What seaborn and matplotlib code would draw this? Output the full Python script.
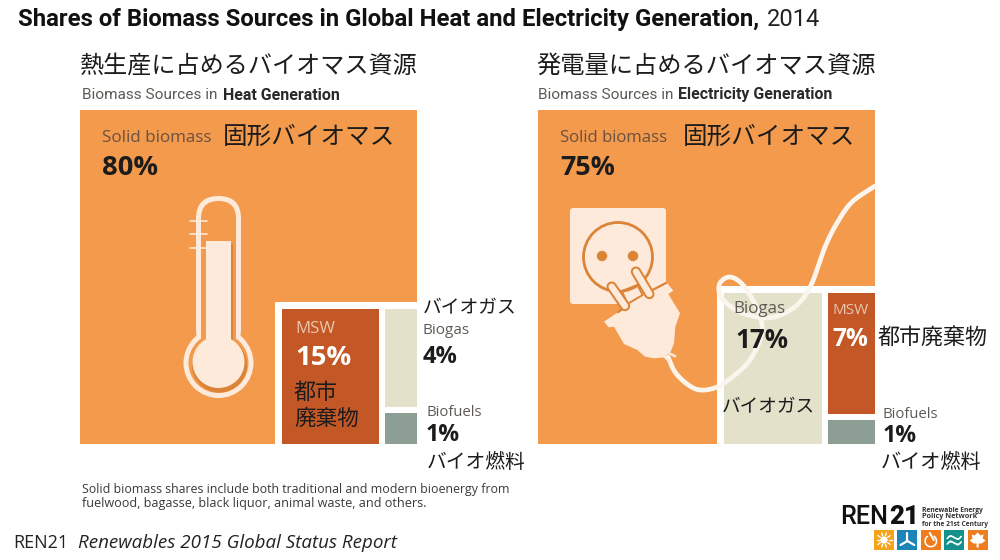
import numpy as np
import pandas as pd
import seaborn as sns
import matplotlib
matplotlib.use('Agg')
import matplotlib.pyplot as plt
from matplotlib.patches import Rectangle, Circle, FancyBboxPatch, Polygon, Wedge

title_main = 'Shares of Biomass Sources in Global Heat and Electricity Generation,'
title_year = '2014'

heat_labels = ['Solid biomass', 'MSW', 'Biogas', 'Biofuels']
heat_shares = [80, 15, 4, 1]
power_labels = ['Solid biomass', 'Biogas', 'MSW', 'Biofuels']
power_shares = [75, 17, 7, 1]

colors = {'Solid biomass': '#F39A4D', 'MSW': '#C45726', 'Biogas': '#E3E1C9', 'Biofuels': '#8D9F95'}
CREAM = '#FDEADB'
DARK = '#DB8437'
INK = '#1C1C1C'
GREY = '#5E5A55'
JP = ['Noto Sans CJK JP', 'DejaVu Sans']
LATIN = ['Open Sans', 'DejaVu Sans']
ROBOTO = ['Roboto', 'DejaVu Sans']

sns.set_theme(style='white')
plt.rcParams['font.family'] = LATIN

fig = plt.figure(figsize=(10, 5.6), dpi=100)
ax = fig.add_axes([0, 0, 1, 1])
ax.set_xlim(0, 1000)
ax.set_ylim(560, 0)
ax.axis('off')
renderer = fig.canvas.get_renderer()


def fit(x0, x1, y, s, family=LATIN, color=INK, weight='normal', style='normal', z=10):
    # text pinned to a pixel span, font size worked out from the measured width
    t = ax.text(x0, y + 2, s, family=family, color=color, weight=weight, style=style,
                fontsize=12, va='center', ha='left', zorder=z)
    for _ in range(2):
        w = t.get_window_extent(renderer).width
        t.set_fontsize(t.get_fontsize() * (x1 - x0) / w)
    return t


def box(x0, y0, x1, y1, color, z=2):
    ax.add_patch(Rectangle((x0, y0), x1 - x0, y1 - y0, fc=color, ec='none', zorder=z))


def treemap(left, top, side, labels, shares):
    # large square with a notch in the lower right holding the three small cells
    right, bottom = left + side, top + side - 3
    df = pd.DataFrame({'label': labels, 'share': shares})
    box(left, top, right, bottom, colors[labels[0]])
    notch = np.sqrt((100 - df.share[0]) / 100) * 0.94 * side
    nx, ny = right - notch, bottom - notch
    box(nx, ny, right + 1, bottom + 1, 'white', z=3)
    margin, gap = 7, 6
    ix, iy = nx + margin, ny + margin
    first_w = (right - ix - gap) * df.share[1] / df.share[1:].sum()
    box(ix, iy, ix + first_w, bottom, colors[labels[1]], z=4)
    # small cell is drawn a little over its true share, as in the source graphic
    last_h = (bottom - iy - gap) * (df.share[3] / df.share[2:].sum() + 0.043)
    box(ix + first_w + gap, iy, right, bottom - last_h - gap, colors[labels[2]], z=4)
    box(ix + first_w + gap, bottom - last_h, right, bottom, colors[labels[3]], z=4)


def curve(pts, color, lw, z):
    # catmull-rom line through the traced artwork points
    p = np.array(pts, dtype=float)
    p = np.vstack([2 * p[0] - p[1], p, 2 * p[-1] - p[-2]])
    t = np.linspace(0, 1, 14)[:, None]
    out = []
    for i in range(1, len(p) - 2):
        a, b, c, d = p[i - 1], p[i], p[i + 1], p[i + 2]
        out.append(0.5 * (2 * b + (c - a) * t + (2 * a - 5 * b + 4 * c - d) * t ** 2 + (3 * b - a - 3 * c + d) * t ** 3))
    out = np.vstack(out)
    ax.plot(out[:, 0], out[:, 1], color=color, lw=lw, zorder=z, solid_capstyle='round', solid_joinstyle='round')


def thermometer():
    cx = 218.5
    for grow, col, z in [(0, CREAM, 5), (-5, colors['Solid biomass'], 6)]:
        r = 22.5 + grow
        ax.add_patch(FancyBboxPatch((cx - r + 3, 196 - grow + 3), 2 * r - 6, 150, boxstyle='round,pad=3,rounding_size=%f' % r,
                                    fc=col, ec='none', zorder=z))
        ax.add_patch(Circle((cx, 363), 35 + grow, fc=col, ec='none', zorder=z))
    ax.add_patch(Circle((cx + 1, 365), 27.5, fc=DARK, ec='none', zorder=7))
    box(cx - 12, 244, cx + 14.5, 345, DARK, z=7)
    ax.add_patch(Circle((cx, 362), 26, fc=CREAM, ec='none', zorder=8))
    box(cx - 12.5, 241, cx + 12.5, 345, CREAM, z=8)
    for y in [221, 234, 248]:
        ax.plot([190, 207], [y, y], color=CREAM, lw=1.2, zorder=9)


def z2px(x, y):
    # plug artwork was traced on a 3x crop that starts at (530, 180)
    return 530 + x / 3, 180 + y / 3


def zline(pts, color, lw, z, cap='butt'):
    xs, ys = zip(*[z2px(*p) for p in pts])
    ax.plot(xs, ys, color=color, lw=lw, zorder=z, solid_capstyle=cap, solid_joinstyle='round')


def plug():
    ax.add_patch(FancyBboxPatch((572, 210), 92, 92, boxstyle='round,pad=2,rounding_size=3', fc=CREAM, ec='none', zorder=5))
    ax.add_patch(Circle((618, 257), 34.5, fc='none', ec=DARK, lw=2, zorder=6))
    for x in [602, 633]:
        ax.add_patch(Circle((x, 256), 5.2, fc=DARK, ec='none', zorder=6))
    body = [(222, 425), (262, 398), (290, 378), (345, 345), (410, 308), (430, 332), (415, 342), (450, 400),
            (436, 440), (432, 490), (422, 515), (402, 532), (372, 535), (345, 530), (322, 510), (282, 492),
            (252, 440), (236, 442)]
    ax.add_patch(Polygon([z2px(*p) for p in body], closed=True, fc=CREAM, ec='none', zorder=6.5))
    # collar line of the plug where it lies on the plate
    zline([(262, 398), (285, 382)], DARK, 1.6, 7)
    zline([(352, 338), (410, 308)], DARK, 1.6, 7)
    zline([(276, 333), (322, 315), (338, 345), (292, 372), (276, 333)], DARK, 1.4, 7)
    # pins
    for a, b in [((245, 320), (285, 378)), ((318, 275), (358, 342))]:
        zline([a, b], DARK, 7.5, 7.2, cap='round')
        zline([a, b], CREAM, 4.6, 7.4, cap='round')
    # ribs and cord
    for a, b in [((392, 520), (420, 545)), ((402, 512), (438, 530))]:
        zline([a, b], CREAM, 1.8, 7.5)
    cord = [(668, 357), (675, 372), (687, 384), (700, 390), (717, 387), (735, 375), (750, 360), (760, 340), (762, 325),
            (757, 308), (743, 285), (730, 277), (720, 283), (720, 295), (730, 306), (745, 314), (767, 318),
            (785, 313), (800, 302), (812, 283), (825, 247), (837, 223), (852, 202), (875, 186)]
    curve(cord, '#FCF5EE', 3.4, 6)


def logo():
    fit(840, 888, 515, 'REN', family=ROBOTO, weight='medium', color='#111111')
    fit(889, 919, 515, '21', family=ROBOTO, weight='black', color='#111111')
    for y, s, x1 in [(508, 'Renewable Energy', 983), (515, 'Policy Network', 977), (522, 'for the 21st Century', 989)]:
        fit(922, x1, y, s, color='#333333', weight='bold')
    tiles = ['#F5A41B', '#1C84B7', '#EF7B1B', '#14918C', '#EE7D20']
    for i, c in enumerate(tiles):
        box(874 + i * 23.4, 530, 894 + i * 23.4, 550, c, z=5)
    cx = np.array([884 + i * 23.4 for i in range(5)])
    # sun
    ax.add_patch(Circle((cx[0], 540), 3.6, fc='white', ec='none', zorder=6))
    for a in np.arange(0, 360, 36):
        d = np.array([np.cos(np.radians(a)), np.sin(np.radians(a))])
        ax.plot([cx[0] + 4.5 * d[0], cx[0] + 7.5 * d[0]], [540 + 4.5 * d[1], 540 + 7.5 * d[1]], color='white', lw=1, zorder=6)
    # wind
    for a in [-90, 30, 150]:
        d = np.array([np.cos(np.radians(a)), np.sin(np.radians(a))])
        ax.plot([cx[1], cx[1] + 8 * d[0]], [541, 541 + 8 * d[1]], color='white', lw=1.6, zorder=6)
    # power ring
    ax.add_patch(Wedge((cx[2], 541), 6.5, -60, 240, width=1.6, fc='white', ec='none', zorder=6))
    ax.plot([cx[2] - 1, cx[2] + 3], [533, 540], color='white', lw=1.5, zorder=6)
    # waves
    for y in [537.5, 543]:
        curve([(cx[3] - 7, y + 1), (cx[3] - 3.5, y - 1.5), (cx[3] + 3.5, y + 1.5), (cx[3] + 7, y - 1)], 'white', 1.2, 6)
    # leaf
    leaf = [(0, -8), (3, -5), (6, -6), (5, -2), (8, 0), (4, 3), (1, 3), (1, 7), (-1, 7), (-1, 3), (-4, 3), (-8, 0), (-5, -2), (-6, -6), (-3, -5)]
    ax.add_patch(Polygon([(cx[4] + x, 540.5 + y) for x, y in leaf], fc='white', ec='none', zorder=6))


treemap(80, 110, 337, heat_labels, heat_shares)
treemap(538, 110, 337, power_labels, power_shares)
thermometer()
plug()
logo()

fit(18, 758, 17.5, title_main, family=ROBOTO, weight='bold', color='#111111')
fit(767, 820, 17.5, title_year, family=ROBOTO, color='#222222')

fit(80, 418, 64, '熱生産に占めるバイオマス資源', family=JP)
fit(536, 875, 64, '発電量に占めるバイオマス資源', family=JP)
fit(82, 218, 93, 'Biomass Sources in', family=ROBOTO, color=GREY)
fit(223, 340, 93, 'Heat Generation', family=ROBOTO, weight='bold', color='#2A2A2A')
fit(538, 674, 93, 'Biomass Sources in', family=ROBOTO, color=GREY)
fit(678, 832, 93, 'Electricity Generation', family=ROBOTO, weight='bold', color='#2A2A2A')

# heat panel
fit(102, 211, 136, heat_labels[0], color='#6A5140')
fit(223, 395, 135, '固形バイオマス', family=JP)
fit(102, 158, 166, f'{heat_shares[0]}%', weight='bold')
fit(295, 335, 327, heat_labels[1], color='#EBC6AE')
fit(295, 351, 356, f'{heat_shares[1]}%', weight='bold', color='white')
fit(294, 338, 391, '都市', family=JP)
fit(294, 359, 417, '廃棄物', family=JP)
fit(423, 517, 306, 'バイオガス', family=JP)
fit(423, 470, 328, heat_labels[2], color=GREY)
fit(423, 458, 355, f'{heat_shares[2]}%', weight='bold')
fit(426, 482, 411, heat_labels[3], color=GREY)
fit(426, 460, 433, f'{heat_shares[3]}%', weight='bold')
fit(427, 526, 460, 'バイオ燃料', family=JP)

# electricity panel
fit(560, 668, 136, power_labels[0], color='#6A5140')
fit(683, 855, 135, '固形バイオマス', family=JP)
fit(560, 615, 166, f'{power_shares[0]}%', weight='bold')
fit(733, 785, 307, power_labels[1], color=GREY)
fit(735, 788, 338, f'{power_shares[1]}%', weight='bold')
fit(722, 815, 405, 'バイオガス', family=JP)
fit(832, 868, 309, power_labels[2], color='#EBC6AE')
fit(832, 868, 337, f'{power_shares[2]}%', weight='bold', color='white')
fit(878, 988, 336, '都市廃棄物', family=JP)
fit(882, 938, 412, power_labels[3], color=GREY)
fit(883, 917, 434, f'{power_shares[3]}%', weight='bold')
fit(881, 982, 461, 'バイオ燃料', family=JP)

fit(82, 513, 487, 'Solid biomass shares include both traditional and modern bioenergy from', color='#3A3A3A')
fit(82, 426, 502, 'fuelwood, bagasse, black liquor, animal waste, and others.', color='#3A3A3A')
fit(13, 68, 541, 'REN21', color='#222222')
fit(78, 395, 541, 'Renewables 2015 Global Status Report', style='italic', color='#222222')

sns.despine(ax=ax, left=True, bottom=True)
fig.savefig('out.png', dpi=100, facecolor='white')
